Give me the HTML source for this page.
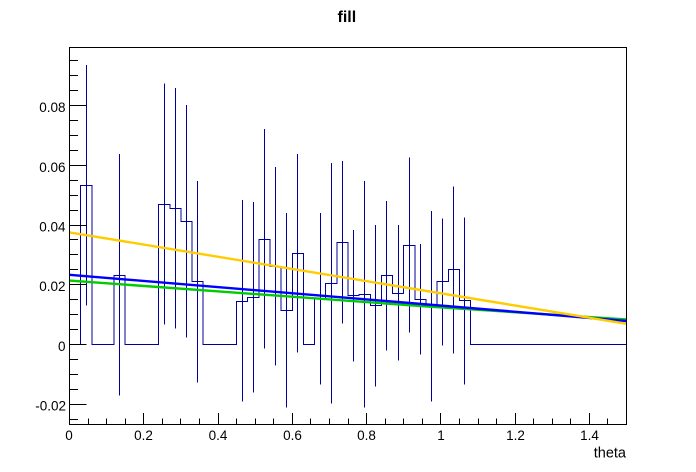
<!DOCTYPE html>
<html>
<head>
<meta charset="utf-8">
<style>
  html, body { margin: 0; padding: 0; background: #ffffff; }
  body { width: 696px; height: 472px; overflow: hidden; }
  svg { display: block; }
  text { font-family: "Liberation Sans", Arial, sans-serif; fill: #000; }
</style>
</head>
<body>
<svg width="696" height="472" viewBox="0 0 696 472" xmlns="http://www.w3.org/2000/svg">
  <rect x="0" y="0" width="696" height="472" fill="#ffffff"/>

  <!-- Title -->
  <text x="337.5" y="22" font-size="16" font-weight="bold">fill</text>

  <!-- Histogram outline -->
  <path shape-rendering="crispEdges" fill="none" stroke="#000099" stroke-width="1"
    d="M69.5,344.5 H80.6 V185.5 H91.8 V344.5 H114.1 V275.5 H125.2 V344.5 H158.6 V204.5 H169.8 V208.5 H180.9 V221.5 H192.0 V281.5 H203.2 V344.5 H236.6 V301.5 H247.7 V297.5 H258.9 V239.5 H270.0 V266.5 H281.2 V310.5 H292.3 V253.5 H303.4 V344.5 H314.6 V298.5 H325.7 V283.5 H336.9 V242.5 H348.0 V295.5 H359.1 V294.5 H370.3 V305.5 H381.4 V275.5 H392.6 V293.5 H403.7 V245.5 H414.8 V299.5 H426.0 V306.5 H437.1 V281.5 H448.3 V269.5 H459.4 V300.5 H470.5 V344.5 H626.5"/>

  <!-- Error bars -->
  <g shape-rendering="crispEdges" stroke="#000099" stroke-width="1">
    <line x1="86.5" y1="65" x2="86.5" y2="305.7"/>
    <line x1="119.5" y1="154" x2="119.5" y2="395.7"/>
    <line x1="164.5" y1="83.7" x2="164.5" y2="324.7"/>
    <line x1="175.5" y1="88" x2="175.5" y2="328.7"/>
    <line x1="186.5" y1="105" x2="186.5" y2="337.3"/>
    <line x1="197.5" y1="181" x2="197.5" y2="382.7"/>
    <line x1="242.5" y1="200" x2="242.5" y2="401.7"/>
    <line x1="253.5" y1="202" x2="253.5" y2="392.7"/>
    <line x1="264.5" y1="129" x2="264.5" y2="348.7"/>
    <line x1="275.5" y1="167" x2="275.5" y2="365.7"/>
    <line x1="286.5" y1="213" x2="286.5" y2="407.7"/>
    <line x1="297.5" y1="154" x2="297.5" y2="352.7"/>
    <line x1="320.5" y1="213" x2="320.5" y2="384.3"/>
    <line x1="331.5" y1="163" x2="331.5" y2="403.7"/>
    <line x1="342.5" y1="161" x2="342.5" y2="323.7"/>
    <line x1="353.5" y1="230" x2="353.5" y2="361.7"/>
    <line x1="364.5" y1="181" x2="364.5" y2="407.7"/>
    <line x1="375.5" y1="225" x2="375.5" y2="386.7"/>
    <line x1="386.5" y1="201" x2="386.5" y2="350.7"/>
    <line x1="398.5" y1="225" x2="398.5" y2="360.7"/>
    <line x1="409.5" y1="157.7" x2="409.5" y2="332.7"/>
    <line x1="420.5" y1="244" x2="420.5" y2="354.7"/>
    <line x1="431.5" y1="211" x2="431.5" y2="401.7"/>
    <line x1="442.5" y1="218.3" x2="442.5" y2="345.7"/>
    <line x1="453.5" y1="186.3" x2="453.5" y2="353.7"/>
    <line x1="464.5" y1="217.3" x2="464.5" y2="384.7"/>
  </g>

  <!-- Fit functions -->
  <polyline fill="none" stroke="#00cc00" stroke-width="2.4" points="69.5,280.6 430,306.7 626.5,319.5"/>
  <line x1="69.5" y1="274.8" x2="626.5" y2="321" stroke="#0000ff" stroke-width="2.4"/>
  <line x1="69.5" y1="232.4" x2="626.5" y2="323.8" stroke="#ffcc00" stroke-width="2.4"/>

  <!-- Frame -->
  <rect x="69.5" y="47.5" width="557" height="377" fill="none" stroke="#000" stroke-width="1" shape-rendering="crispEdges"/>

  <!-- Y axis ticks -->
  <g shape-rendering="crispEdges" stroke="#000" stroke-width="1">
    <line x1="69.5" y1="404.5" x2="86.5" y2="404.5"/>
    <line x1="69.5" y1="344.5" x2="86.5" y2="344.5"/>
    <line x1="69.5" y1="284.5" x2="86.5" y2="284.5"/>
    <line x1="69.5" y1="225.5" x2="86.5" y2="225.5"/>
    <line x1="69.5" y1="165.5" x2="86.5" y2="165.5"/>
    <line x1="69.5" y1="105.5" x2="86.5" y2="105.5"/>
    <line x1="69.5" y1="419.5" x2="78" y2="419.5"/>
    <line x1="69.5" y1="389.5" x2="78" y2="389.5"/>
    <line x1="69.5" y1="374.5" x2="78" y2="374.5"/>
    <line x1="69.5" y1="359.5" x2="78" y2="359.5"/>
    <line x1="69.5" y1="329.5" x2="78" y2="329.5"/>
    <line x1="69.5" y1="314.5" x2="78" y2="314.5"/>
    <line x1="69.5" y1="299.5" x2="78" y2="299.5"/>
    <line x1="69.5" y1="269.5" x2="78" y2="269.5"/>
    <line x1="69.5" y1="254.5" x2="78" y2="254.5"/>
    <line x1="69.5" y1="239.5" x2="78" y2="239.5"/>
    <line x1="69.5" y1="210.5" x2="78" y2="210.5"/>
    <line x1="69.5" y1="195.5" x2="78" y2="195.5"/>
    <line x1="69.5" y1="180.5" x2="78" y2="180.5"/>
    <line x1="69.5" y1="150.5" x2="78" y2="150.5"/>
    <line x1="69.5" y1="135.5" x2="78" y2="135.5"/>
    <line x1="69.5" y1="120.5" x2="78" y2="120.5"/>
    <line x1="69.5" y1="90.5" x2="78" y2="90.5"/>
    <line x1="69.5" y1="75.5" x2="78" y2="75.5"/>
    <line x1="69.5" y1="60.5" x2="78" y2="60.5"/>
  </g>

  <!-- X axis ticks -->
  <g shape-rendering="crispEdges" stroke="#000" stroke-width="1">
    <line x1="69.5" y1="424.5" x2="69.5" y2="413"/>
    <line x1="143.5" y1="424.5" x2="143.5" y2="413"/>
    <line x1="218.5" y1="424.5" x2="218.5" y2="413"/>
    <line x1="292.5" y1="424.5" x2="292.5" y2="413"/>
    <line x1="366.5" y1="424.5" x2="366.5" y2="413"/>
    <line x1="440.5" y1="424.5" x2="440.5" y2="413"/>
    <line x1="515.5" y1="424.5" x2="515.5" y2="413"/>
    <line x1="589.5" y1="424.5" x2="589.5" y2="413"/>
    <line x1="88.5" y1="424.5" x2="88.5" y2="418.5"/>
    <line x1="106.5" y1="424.5" x2="106.5" y2="418.5"/>
    <line x1="125.5" y1="424.5" x2="125.5" y2="418.5"/>
    <line x1="162.5" y1="424.5" x2="162.5" y2="418.5"/>
    <line x1="180.5" y1="424.5" x2="180.5" y2="418.5"/>
    <line x1="199.5" y1="424.5" x2="199.5" y2="418.5"/>
    <line x1="236.5" y1="424.5" x2="236.5" y2="418.5"/>
    <line x1="255.5" y1="424.5" x2="255.5" y2="418.5"/>
    <line x1="273.5" y1="424.5" x2="273.5" y2="418.5"/>
    <line x1="310.5" y1="424.5" x2="310.5" y2="418.5"/>
    <line x1="329.5" y1="424.5" x2="329.5" y2="418.5"/>
    <line x1="348.5" y1="424.5" x2="348.5" y2="418.5"/>
    <line x1="385.5" y1="424.5" x2="385.5" y2="418.5"/>
    <line x1="403.5" y1="424.5" x2="403.5" y2="418.5"/>
    <line x1="422.5" y1="424.5" x2="422.5" y2="418.5"/>
    <line x1="459.5" y1="424.5" x2="459.5" y2="418.5"/>
    <line x1="478.5" y1="424.5" x2="478.5" y2="418.5"/>
    <line x1="496.5" y1="424.5" x2="496.5" y2="418.5"/>
    <line x1="533.5" y1="424.5" x2="533.5" y2="418.5"/>
    <line x1="552.5" y1="424.5" x2="552.5" y2="418.5"/>
    <line x1="570.5" y1="424.5" x2="570.5" y2="418.5"/>
    <line x1="607.5" y1="424.5" x2="607.5" y2="418.5"/>
  </g>

  <!-- Y labels -->
  <g font-size="13.5" text-anchor="end">
    <text x="65.5" y="112">0.08</text>
    <text x="65.5" y="172">0.06</text>
    <text x="65.5" y="231.5">0.04</text>
    <text x="65.5" y="291">0.02</text>
    <text x="65.5" y="351">0</text>
    <text x="66" y="410.5">-0.02</text>
  </g>

  <!-- X labels -->
  <g font-size="13.5" text-anchor="middle">
    <text x="69" y="440">0</text>
    <text x="143.5" y="440">0.2</text>
    <text x="218" y="440">0.4</text>
    <text x="292.5" y="440">0.6</text>
    <text x="366.5" y="440">0.8</text>
    <text x="441" y="440">1</text>
    <text x="515.5" y="440">1.2</text>
    <text x="589.5" y="440">1.4</text>
  </g>

  <!-- X axis title -->
  <text x="626" y="457.3" font-size="14.5" text-anchor="end">theta</text>
</svg>
</body>
</html>
